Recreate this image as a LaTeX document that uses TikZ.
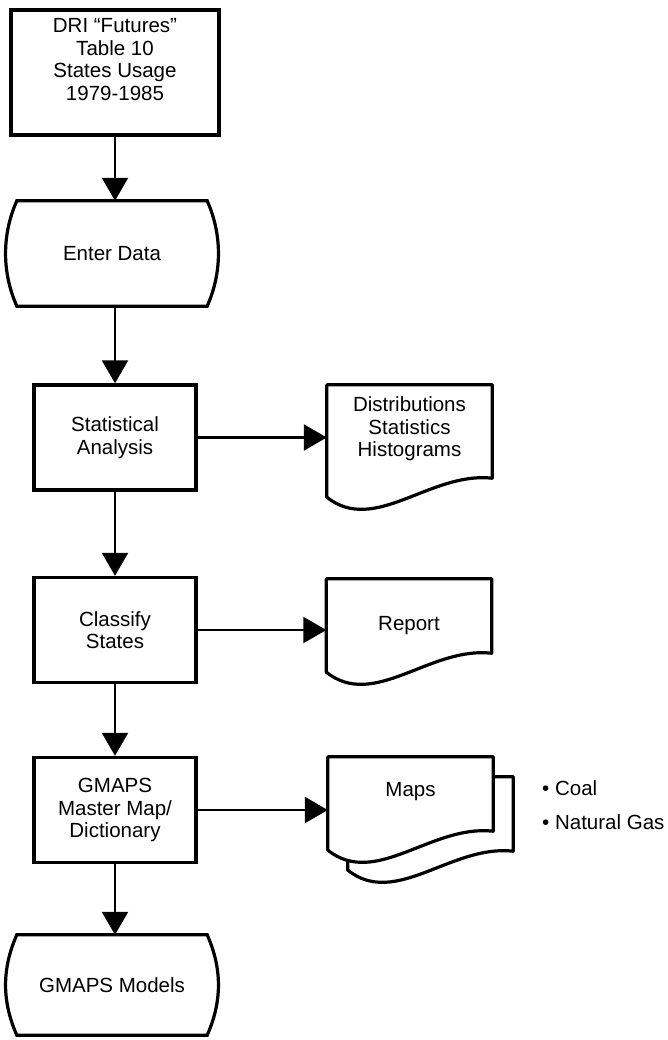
\documentclass[tikz,border=0pt]{standalone}
\usepackage{fontspec}
\setmainfont{Liberation Sans}
\usetikzlibrary{arrows.meta,backgrounds}
\tikzstyle{arrow} = [-{Triangle[length=23pt,width=26pt]}, line width=2.2pt]
\tikzstyle{process} = [draw, line width=3.4pt, minimum width=162pt, minimum height=105pt, align=center, inner sep=0pt]
\tikzstyle{terminal} = [minimum width=190pt, minimum height=105pt, align=center, inner sep=0pt]
\tikzstyle{docnode} = [minimum width=165pt, align=center, inner sep=0pt]
\tikzstyle{shapeline} = [draw, fill=white, line width=3.2pt]
% start/stop outline with bulging sides
\newcommand{\termoutline}[1]{%
  \path[shapeline] (#1.north west) -- (#1.north east) .. controls +(15,34) and +(15,-34) .. (#1.south east)
    -- (#1.south west) .. controls +(-15,-34) and +(-15,34) .. (#1.north west) -- cycle;}
% wavy-bottom page outline; #1 = offset of a page lying behind
\newcommand{\docoutline}[2][0pt]{%
  \path[shapeline, line join=round] ([xshift=#1,yshift=-#1]#2.south west) -- ([xshift=#1,yshift=-#1]#2.north west)
    -- ([xshift=#1,yshift=-#1]#2.north east) -- ([xshift=#1,yshift=19pt-#1]#2.south east)
    .. controls +(-62,-7) and +(48,38) .. ([xshift=#1,yshift=-#1]#2.south west) -- cycle;}

\begin{document}
\begin{tikzpicture}[x=1pt, y=-1pt, every node/.style={font=\fontsize{20.5}{22.5}\selectfont}]
    \useasboundingbox (0,0) rectangle (667,1040);

    \node [process, minimum width=208pt, minimum height=125pt] (dri) at (115,72.5) {DRI ``Futures''\\Table 10\\States Usage\\1979-1985\\[4pt]};
    \node [terminal] (enter) at (112,253.5) {Enter Data};
    \node [process] (stat) at (115,437.5) {Statistical\\Analysis};
    \node [process] (classify) at (115,630) {Classify\\States};
    \node [process] (gmaps) at (115,810) {GMAPS\\Master Map/\\Dictionary};
    \node [terminal, minimum height=100pt] (models) at (112,985) {GMAPS Models};

    \node [docnode, minimum height=112pt] (dist) at (409.5,441) {Distributions\\Statistics\\Histograms\\[6pt]};
    \node [docnode, minimum height=93pt] (report) at (409,625.5) {Report};
    \node [docnode, minimum height=93pt] (maps) at (410.5,803.5) {Maps\\[6pt]};

    \node [anchor=west, inner sep=0pt] (coal) at (542,788) {\textbullet\ Coal};
    \node [anchor=west, inner sep=0pt] (gas) at (542,822) {\textbullet\ Natural Gas};

    \begin{scope}[on background layer]
        \termoutline{enter}
        \termoutline{models}
        \docoutline{dist}
        \docoutline{report}
        \docoutline[20pt]{maps}
        \docoutline{maps}
    \end{scope}

    \draw [arrow] (dri) -- (dri |- enter.north);
    \draw [arrow] (enter.south -| stat) -- (stat);
    \draw [arrow] (stat) -- (classify);
    \draw [arrow] (classify) -- (gmaps);
    \draw [arrow] (gmaps) -- (gmaps |- models.north);

    \draw [arrow] (stat) -- (stat -| dist.west);
    \draw [arrow] (classify) -- (classify -| report.west);
    \draw [arrow] (gmaps) -- (gmaps -| maps.west);
\end{tikzpicture}
\end{document}
